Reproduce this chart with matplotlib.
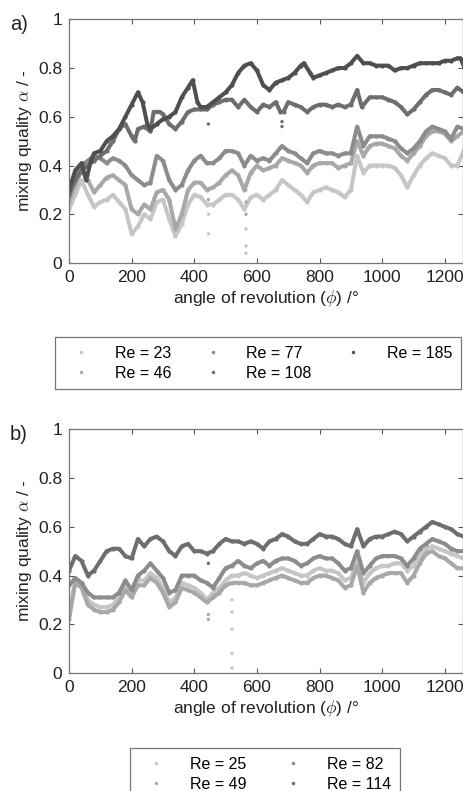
import numpy as np
import matplotlib
matplotlib.use('Agg')
import matplotlib.pyplot as plt
from matplotlib.lines import Line2D

plt.rcParams['font.family'] = ['Liberation Sans', 'DejaVu Sans']
plt.rcParams['mathtext.fontset'] = 'cm'

# common phi grid (deg)
phi = np.arange(0, 1261, 20)

# ---- panel a ----
phi_a185 = [0, 20, 40, 55, 70, 80, 100, 120, 140, 160, 180, 200, 220, 235, 250, 260, 280, 300, 320, 340, 360, 380,
            395, 410, 420, 440, 460, 480, 500, 520, 540, 560, 580, 600, 620, 640, 660, 680, 700, 720, 740, 750,
            770, 780, 800, 820, 840, 860, 880, 900, 920, 940, 960, 980, 1000, 1020, 1040, 1060, 1080, 1100, 1120,
            1140, 1160, 1180, 1200, 1220, 1240, 1250, 1260]
a185 = [0.30, 0.38, 0.41, 0.34, 0.42, 0.45, 0.46, 0.50, 0.52, 0.55, 0.60, 0.65, 0.70, 0.66, 0.57, 0.55, 0.57, 0.59,
        0.60, 0.62, 0.68, 0.72, 0.75, 0.66, 0.64, 0.64, 0.66, 0.68, 0.70, 0.73, 0.78, 0.81, 0.82, 0.79, 0.73, 0.71,
        0.74, 0.75, 0.76, 0.78, 0.81, 0.82, 0.78, 0.76, 0.77, 0.78, 0.79, 0.80, 0.80, 0.82, 0.85, 0.82, 0.82, 0.81,
        0.81, 0.81, 0.79, 0.80, 0.80, 0.81, 0.82, 0.82, 0.82, 0.82, 0.83, 0.83, 0.84, 0.84, 0.81]

phi_a108 = [0, 20, 40, 60, 80, 100, 120, 140, 160, 180, 200, 210, 220, 240, 260, 270, 290, 300, 320, 340, 360, 380,
            400, 420, 440, 460, 480, 500, 520, 540, 560, 580, 600, 620, 640, 660, 675, 685, 700, 720, 740, 760, 780,
            800, 820, 840, 860, 880, 900, 920, 935, 960, 980, 1000, 1020, 1040, 1060, 1080, 1100, 1120, 1140, 1160,
            1180, 1200, 1220, 1240, 1260]
a108 = [0.28, 0.34, 0.38, 0.40, 0.42, 0.44, 0.46, 0.50, 0.55, 0.57, 0.52, 0.50, 0.55, 0.56, 0.54, 0.62, 0.62, 0.61,
        0.57, 0.55, 0.58, 0.62, 0.63, 0.63, 0.63, 0.65, 0.66, 0.67, 0.67, 0.64, 0.67, 0.64, 0.62, 0.65, 0.64, 0.66,
        0.62, 0.62, 0.66, 0.65, 0.64, 0.62, 0.64, 0.65, 0.65, 0.64, 0.65, 0.64, 0.65, 0.71, 0.64, 0.68, 0.68, 0.68,
        0.67, 0.66, 0.64, 0.61, 0.63, 0.66, 0.69, 0.71, 0.71, 0.70, 0.69, 0.72, 0.70]

a77 = [0.28, 0.36, 0.40, 0.42, 0.44, 0.43, 0.41, 0.43, 0.42, 0.40, 0.36, 0.34, 0.32, 0.33, 0.44, 0.42, 0.34, 0.30,
       0.32, 0.38, 0.42, 0.44, 0.41, 0.41, 0.43, 0.46, 0.46, 0.45, 0.40, 0.44, 0.42, 0.43, 0.42, 0.45, 0.48, 0.46,
       0.45, 0.43, 0.41, 0.45, 0.46, 0.45, 0.45, 0.44, 0.45, 0.45, 0.56, 0.48, 0.52, 0.52, 0.52, 0.51, 0.50, 0.47,
       0.45, 0.47, 0.50, 0.54, 0.56, 0.55, 0.54, 0.51, 0.56, 0.55]
a46 = [0.25, 0.32, 0.38, 0.34, 0.29, 0.32, 0.35, 0.36, 0.34, 0.32, 0.22, 0.20, 0.24, 0.22, 0.29, 0.30, 0.26, 0.14,
       0.20, 0.30, 0.33, 0.33, 0.30, 0.31, 0.33, 0.36, 0.38, 0.36, 0.30, 0.37, 0.40, 0.38, 0.39, 0.40, 0.43, 0.42,
       0.41, 0.40, 0.37, 0.40, 0.41, 0.41, 0.41, 0.39, 0.40, 0.41, 0.50, 0.44, 0.48, 0.49, 0.49, 0.48, 0.47, 0.44,
       0.42, 0.45, 0.48, 0.52, 0.54, 0.54, 0.53, 0.50, 0.52, 0.54]
a23 = [0.22, 0.28, 0.34, 0.28, 0.23, 0.25, 0.26, 0.28, 0.25, 0.22, 0.12, 0.15, 0.20, 0.18, 0.25, 0.26, 0.18, 0.11,
       0.16, 0.24, 0.28, 0.27, 0.24, 0.24, 0.26, 0.28, 0.28, 0.26, 0.22, 0.27, 0.28, 0.26, 0.28, 0.30, 0.34, 0.32,
       0.30, 0.28, 0.25, 0.29, 0.30, 0.31, 0.30, 0.29, 0.27, 0.30, 0.44, 0.37, 0.40, 0.40, 0.40, 0.40, 0.39, 0.36,
       0.31, 0.36, 0.40, 0.43, 0.45, 0.44, 0.43, 0.40, 0.40, 0.46]

# stray points (phi, value, Re)
out_a_phi = [445, 445, 445, 445, 445, 565, 565, 565, 565, 565, 565, 680, 680]
out_a_val = [0.57, 0.30, 0.26, 0.20, 0.12, 0.30, 0.25, 0.20, 0.14, 0.07, 0.04, 0.58, 0.56]
out_a_re = [108, 46, 46, 23, 23, 46, 46, 46, 23, 23, 23, 108, 108]

# ---- panel b ----
b114 = [0.42, 0.48, 0.46, 0.40, 0.42, 0.46, 0.50, 0.51, 0.51, 0.48, 0.47, 0.55, 0.52, 0.55, 0.56, 0.54, 0.50, 0.48,
        0.52, 0.53, 0.50, 0.50, 0.49, 0.50, 0.53, 0.55, 0.54, 0.54, 0.53, 0.54, 0.53, 0.51, 0.54, 0.55, 0.57, 0.56,
        0.54, 0.53, 0.53, 0.55, 0.57, 0.56, 0.56, 0.55, 0.53, 0.52, 0.59, 0.52, 0.55, 0.56, 0.56, 0.57, 0.58, 0.57,
        0.54, 0.56, 0.58, 0.60, 0.62, 0.61, 0.60, 0.59, 0.57, 0.56]
b82 = [0.36, 0.39, 0.37, 0.33, 0.31, 0.31, 0.31, 0.31, 0.33, 0.38, 0.34, 0.40, 0.42, 0.45, 0.42, 0.39, 0.33, 0.34,
       0.40, 0.40, 0.40, 0.38, 0.37, 0.35, 0.39, 0.43, 0.44, 0.46, 0.44, 0.43, 0.45, 0.46, 0.44, 0.46, 0.47, 0.47,
       0.46, 0.44, 0.45, 0.47, 0.48, 0.47, 0.47, 0.45, 0.42, 0.43, 0.50, 0.41, 0.44, 0.47, 0.48, 0.48, 0.48, 0.47,
       0.44, 0.47, 0.51, 0.53, 0.55, 0.54, 0.53, 0.51, 0.50, 0.50]
b49 = [0.22, 0.37, 0.35, 0.28, 0.26, 0.25, 0.25, 0.26, 0.29, 0.34, 0.31, 0.36, 0.36, 0.39, 0.37, 0.33, 0.27, 0.29,
       0.35, 0.34, 0.33, 0.31, 0.29, 0.31, 0.33, 0.36, 0.37, 0.37, 0.37, 0.36, 0.36, 0.37, 0.38, 0.39, 0.40, 0.39,
       0.38, 0.37, 0.37, 0.39, 0.40, 0.40, 0.39, 0.38, 0.35, 0.36, 0.44, 0.33, 0.37, 0.39, 0.40, 0.41, 0.41, 0.41,
       0.37, 0.40, 0.45, 0.49, 0.50, 0.48, 0.47, 0.45, 0.43, 0.43]
b25 = [0.24, 0.38, 0.37, 0.30, 0.28, 0.27, 0.27, 0.28, 0.31, 0.36, 0.33, 0.38, 0.38, 0.41, 0.39, 0.35, 0.29, 0.31,
       0.37, 0.36, 0.35, 0.33, 0.30, 0.33, 0.35, 0.38, 0.40, 0.40, 0.41, 0.40, 0.39, 0.40, 0.41, 0.42, 0.43, 0.42,
       0.41, 0.40, 0.40, 0.42, 0.43, 0.42, 0.42, 0.41, 0.38, 0.39, 0.46, 0.37, 0.41, 0.43, 0.44, 0.44, 0.45, 0.45,
       0.42, 0.44, 0.48, 0.51, 0.52, 0.51, 0.50, 0.49, 0.48, 0.47]

out_b_phi = [445, 445, 445, 520, 520, 520, 520, 520]
out_b_val = [0.45, 0.24, 0.22, 0.30, 0.25, 0.18, 0.08, 0.02]
out_b_re = [114, 49, 49, 25, 25, 25, 25, 25]

grey = {23: '#c6c6c6', 46: '#a8a8a8', 77: '#8c8c8c', 108: '#6e6e6e', 185: '#4f4f4f',
        25: '#c6c6c6', 49: '#a8a8a8', 82: '#8c8c8c', 114: '#6e6e6e'}

fig = plt.figure(figsize=(4.64, 7.91), dpi=100)
ax1 = fig.add_axes([69 / 464, 528 / 791, 394 / 464, 243.7 / 791])
ax2 = fig.add_axes([69 / 464, 118 / 791, 394 / 464, 243.7 / 791])

series_a = [(23, phi, a23), (46, phi, a46), (77, phi, a77), (108, phi_a108, a108), (185, phi_a185, a185)]
series_b = [(25, phi, b25), (49, phi, b49), (82, phi, b82), (114, phi, b114)]

for ax, series, ophi, oval, ore in [(ax1, series_a, out_a_phi, out_a_val, out_a_re),
                                    (ax2, series_b, out_b_phi, out_b_val, out_b_re)]:
    for re, x, y in series:
        ax.plot(x, y, '-', color=grey[re], lw=2.9, marker='o', ms=3, mew=0, zorder=2)
    ax.scatter(ophi, oval, s=6, c=[grey[r] for r in ore], linewidths=0, zorder=2)
    ax.set_xlim(0, 1258)
    ax.set_ylim(0, 1)
    ax.set_xticks([0, 200, 400, 600, 800, 1000, 1200])
    ax.set_yticks([0, 0.2, 0.4, 0.6, 0.8, 1])
    ax.set_yticklabels(['0', '0.2', '0.4', '0.6', '0.8', '1'])
    ax.tick_params(direction='in', top=True, right=True, length=3.5, width=0.8, color='#555555',
                   labelsize=12.5, labelcolor='#222222', pad=5)
    for s in ax.spines.values():
        s.set_color('#777777')
        s.set_linewidth(0.9)
    ax.set_xlabel(r'angle of revolution ($\phi$) /°', fontsize=12.5, color='#222222', labelpad=2)
    ax.set_ylabel(r'mixing quality $\alpha$ / -', fontsize=12.5, color='#222222', labelpad=3)

fig.text(10 / 464, 1 - 30 / 791, 'a)', fontsize=14.5, color='#222222', va='baseline')
fig.text(10 / 464, 1 - 440 / 791, 'b)', fontsize=14.5, color='#222222', va='baseline')


def handles(res):
    return [Line2D([], [], ls='none', marker='o', ms=2.5, mew=0, color=grey[r]) for r in res]


leg1 = fig.legend(handles([23, 46, 77, 108, 185]), ['Re = 23', 'Re = 46', 'Re = 77', 'Re = 108', 'Re = 185'],
                  ncol=3, loc='upper left', bbox_to_anchor=(55 / 464, 1 - 386 / 791, 406 / 464, 49 / 791),
                  mode='expand', fontsize=11.5, frameon=True, fancybox=False, edgecolor='#555555',
                  handlelength=2.2, handletextpad=1.0, labelspacing=0.3, borderpad=0.55, borderaxespad=0)
leg1.get_frame().set_linewidth(0.9)

leg2 = fig.legend(handles([25, 49, 82, 114]), ['Re = 25', 'Re = 49', 'Re = 82', 'Re = 114'],
                  ncol=2, loc='upper left', bbox_to_anchor=(130 / 464, 1 - 800 / 791, 270 / 464, 52 / 791),
                  mode='expand', fontsize=11.5, frameon=True, fancybox=False, edgecolor='#555555',
                  handlelength=2.2, handletextpad=1.0, labelspacing=0.3, borderpad=0.55, borderaxespad=0)
leg2.get_frame().set_linewidth(0.9)

fig.savefig('out.png', dpi=100)
